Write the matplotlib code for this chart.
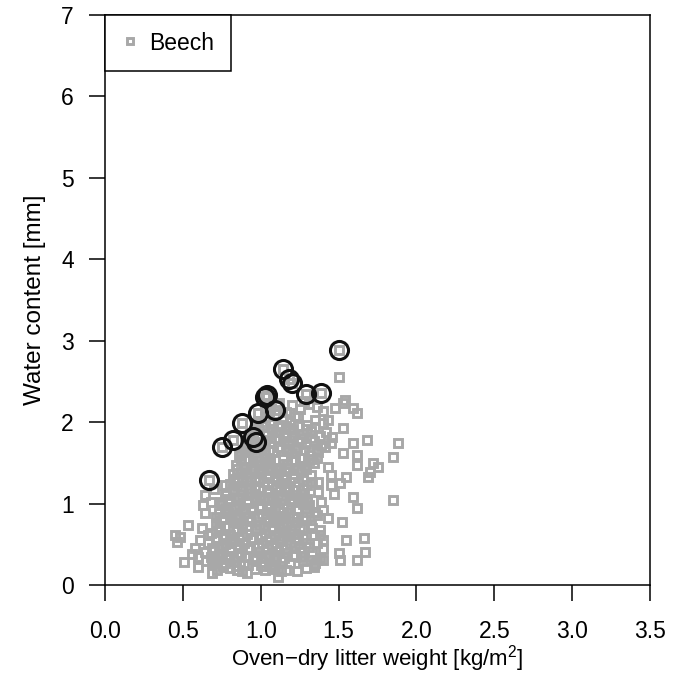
import matplotlib
matplotlib.use("Agg")
import matplotlib.pyplot as plt

plt.rcParams['font.family'] = ['Liberation Sans', 'DejaVu Sans']
plt.rcParams['mathtext.fontset'] = 'custom'
plt.rcParams['mathtext.rm'] = 'Liberation Sans'
plt.rcParams['mathtext.it'] = 'Liberation Sans:italic'

# gray squares: all beech samples
beech_x = [
    1.06, 1.12, 1.20, 1.25, 1.31, 1.36, 1.40, 1.16, 1.28, 1.09,
    0.98, 1.03, 1.08, 1.14, 1.19, 1.24, 1.30, 1.35, 1.40, 1.11,
    0.93, 0.99, 1.04, 1.10, 1.16, 1.21, 1.27, 1.32, 1.38, 1.42,
    0.90, 0.95, 1.01, 1.06, 1.12, 1.18, 1.23, 1.29, 1.34, 1.39,
    0.86, 0.92, 0.97, 1.03, 1.08, 1.14, 1.20, 1.25, 1.31, 1.37,
    0.84, 0.89, 0.95, 1.00, 1.06, 1.11, 1.17, 1.22, 1.28, 1.34,
    0.82, 0.87, 0.93, 0.98, 1.04, 1.09, 1.15, 1.21, 1.26, 1.32,
    0.80, 0.85, 0.91, 0.96, 1.02, 1.07, 1.13, 1.18, 1.24, 1.30,
    0.77, 0.83, 0.88, 0.94, 0.99, 1.05, 1.11, 1.16, 1.22, 1.28,
    0.75, 0.80, 0.86, 0.92, 0.97, 1.04, 1.09, 1.15, 1.21, 1.27,
    0.73, 0.79, 0.84, 0.90, 0.95, 1.01, 1.07, 1.12, 1.18, 1.24,
    0.71, 0.77, 0.82, 0.88, 0.94, 0.99, 1.05, 1.11, 1.17, 1.23,
    0.68, 0.74, 0.80, 0.85, 0.91, 0.97, 1.03, 1.09, 1.15, 1.21,
    0.66, 0.72, 0.77, 0.83, 0.89, 0.95, 1.01, 1.07, 1.13, 1.19,
    0.64, 0.70, 0.75, 0.81, 0.87, 0.93, 0.99, 1.05, 1.11, 1.17,
    0.65, 0.71, 0.77, 0.83, 0.89, 0.95, 1.01, 1.07, 1.13, 1.19,
    0.72, 0.80, 0.88, 0.96, 1.03, 1.09, 1.16, 1.23, 1.29, 1.34,
    1.33, 1.37, 1.30, 1.35, 1.29, 1.33, 1.27, 1.31, 1.28, 1.33,
    1.25, 1.38, 1.36, 1.40, 1.38, 1.26, 1.35, 1.24, 1.27, 1.23,
    0.98, 1.02, 1.06, 1.10, 1.14, 1.18, 1.00, 1.04, 1.08, 1.12,
    1.16, 1.12, 1.08, 1.04, 1.00, 0.96, 1.14, 1.10, 1.06, 1.02,
    0.90, 0.94, 0.88, 0.92, 0.86, 0.90, 0.84, 0.88, 0.82, 0.86,
    1.20, 1.24, 1.18, 1.22, 1.16, 1.20, 1.14, 1.18, 1.22, 1.26,
    0.96, 1.01, 1.07, 1.13, 1.18, 1.24, 1.29, 1.35, 1.05, 1.22,
    0.92, 0.98, 1.03, 1.09, 1.15, 1.20, 1.26, 1.32, 0.89, 1.36,
    0.94, 1.00, 1.05, 1.11, 1.17, 1.22, 1.28, 0.87, 0.92, 1.33,
    0.98, 1.03, 1.09, 1.14, 1.20, 1.25, 1.31, 0.85, 0.90, 0.96,
    1.01, 1.07, 1.12, 1.18, 1.24, 1.29, 0.83, 0.88, 0.94, 0.99,
    1.05, 1.10, 1.16, 1.21, 1.27, 0.82, 0.88, 0.93, 0.99, 1.04,
    1.10, 1.16, 1.21, 1.27, 0.79, 0.85, 0.91, 0.96, 1.02, 1.07,
    1.13, 1.19, 1.24, 1.30, 0.77, 0.83, 0.89, 0.94, 1.00, 1.06,
    1.12, 1.17, 1.23, 1.29, 0.75, 0.81, 0.86, 0.92, 0.98, 1.04,
    1.09, 1.15, 1.21, 1.27, 0.74, 0.79, 0.85, 0.91, 0.97, 1.02,
    1.08, 1.14, 1.19, 1.25, 0.71, 0.77, 0.83, 0.88, 0.94, 1.00,
    1.06, 1.12, 1.18, 1.24, 0.69, 0.75, 0.80, 0.86, 0.92, 0.98,
    1.04, 1.10, 1.16, 1.22, 0.68, 0.74, 0.79, 0.85, 0.91, 0.97,
    1.03, 1.09, 1.15, 1.21, 1.27, 0.76, 0.84, 0.92, 1.00, 1.06,
    0.70, 0.73, 0.78, 0.81, 0.76, 0.79, 0.74, 0.87, 1.26, 1.31,
    1.34, 1.29, 1.32, 1.36, 1.03, 1.11, 0.97, 1.19, 1.13, 1.07,
    1.50, 1.54, 1.53, 1.59, 1.62, 1.48, 1.43, 1.53, 1.46, 1.45,
    1.59, 1.68, 1.88, 1.85, 1.85, 1.62, 1.62, 1.72, 1.70, 1.69,
    1.55, 1.51, 1.59, 1.62, 1.52, 1.40, 1.55, 1.66, 1.67, 1.62,
    1.50, 1.51, 1.36, 1.43, 1.39, 1.34, 1.40, 1.34, 1.40, 1.38,
    1.43, 1.37, 1.45, 1.41, 1.36, 1.36, 1.53, 1.75, 1.45, 1.47,
    0.53, 0.45, 0.46, 0.48, 0.51, 0.61, 0.66, 0.60, 0.60, 0.69,
    0.69, 0.76, 0.85, 0.91, 1.11, 0.64, 0.63, 0.64, 0.71, 0.73,
    0.75, 0.78, 0.77, 0.87, 0.85, 0.58, 0.56, 0.62, 0.68, 0.70,
]
beech_y = [
    2.18, 2.24, 2.21, 2.16, 2.22, 2.19, 2.14, 2.12, 2.26, 2.10,
    2.02, 2.06, 1.98, 2.04, 2.00, 2.07, 1.97, 2.03, 1.99, 1.94,
    1.86, 1.90, 1.84, 1.88, 1.82, 1.91, 1.85, 1.89, 1.83, 1.88,
    1.74, 1.69, 1.72, 1.76, 1.70, 1.74, 1.68, 1.73, 1.77, 1.71,
    1.60, 1.63, 1.57, 1.61, 1.64, 1.58, 1.62, 1.56, 1.60, 1.63,
    1.48, 1.45, 1.51, 1.47, 1.50, 1.44, 1.49, 1.52, 1.46, 1.50,
    1.36, 1.39, 1.33, 1.37, 1.34, 1.38, 1.32, 1.36, 1.40, 1.35,
    1.24, 1.21, 1.26, 1.22, 1.27, 1.23, 1.25, 1.20, 1.26, 1.23,
    1.12, 1.15, 1.10, 1.13, 1.09, 1.14, 1.11, 1.15, 1.10, 1.13,
    1.00, 1.03, 0.98, 1.01, 1.04, 0.97, 1.02, 0.99, 1.03, 1.00,
    0.88, 0.91, 0.86, 0.89, 0.92, 0.87, 0.90, 0.85, 0.89, 0.92,
    0.76, 0.73, 0.78, 0.75, 0.79, 0.74, 0.77, 0.80, 0.75, 0.78,
    0.64, 0.67, 0.62, 0.66, 0.63, 0.68, 0.64, 0.61, 0.66, 0.63,
    0.52, 0.55, 0.50, 0.54, 0.51, 0.56, 0.52, 0.49, 0.54, 0.51,
    0.40, 0.43, 0.38, 0.42, 0.39, 0.44, 0.40, 0.37, 0.42, 0.39,
    0.29, 0.31, 0.27, 0.30, 0.26, 0.32, 0.28, 0.25, 0.30, 0.27,
    0.19, 0.21, 0.17, 0.20, 0.18, 0.22, 0.19, 0.17, 0.21, 0.24,
    1.26, 1.14, 1.02, 0.90, 0.80, 0.70, 0.58, 0.47, 0.36, 0.40,
    0.46, 0.62, 0.52, 0.44, 0.33, 0.40, 0.27, 0.58, 0.70, 0.84,
    1.80, 1.66, 1.54, 1.42, 1.30, 1.18, 1.06, 0.94, 0.82, 0.70,
    1.95, 1.78, 1.65, 1.52, 1.40, 1.28, 0.60, 0.47, 0.35, 0.23,
    1.55, 1.42, 1.30, 1.18, 1.06, 0.94, 0.82, 0.70, 0.58, 0.46,
    1.88, 1.76, 1.64, 1.52, 1.40, 1.06, 0.94, 0.82, 0.58, 0.34,
    1.93, 1.95, 1.92, 1.96, 1.93, 1.95, 1.91, 1.94, 2.12, 2.08,
    1.79, 1.81, 1.78, 1.80, 1.77, 1.82, 1.79, 1.80, 1.66, 1.67,
    1.67, 1.68, 1.66, 1.69, 1.67, 1.68, 1.66, 1.54, 1.55, 1.55,
    1.54, 1.56, 1.53, 1.55, 1.54, 1.56, 1.53, 1.42, 1.43, 1.41,
    1.42, 1.43, 1.41, 1.44, 1.42, 1.43, 1.30, 1.31, 1.29, 1.30,
    1.31, 1.29, 1.30, 1.31, 1.29, 1.18, 1.17, 1.19, 1.18, 1.17,
    1.18, 1.19, 1.17, 1.18, 1.06, 1.07, 1.05, 1.07, 1.06, 1.08,
    1.06, 1.05, 1.07, 1.06, 0.94, 0.95, 0.93, 0.95, 0.94, 0.96,
    0.94, 0.95, 0.93, 0.95, 0.82, 0.83, 0.81, 0.82, 0.84, 0.82,
    0.83, 0.82, 0.84, 0.83, 0.70, 0.71, 0.69, 0.72, 0.70, 0.71,
    0.70, 0.72, 0.69, 0.71, 0.58, 0.59, 0.57, 0.60, 0.58, 0.59,
    0.58, 0.57, 0.59, 0.58, 0.46, 0.47, 0.45, 0.48, 0.46, 0.47,
    0.46, 0.47, 0.45, 0.48, 0.34, 0.35, 0.33, 0.36, 0.34, 0.35,
    0.34, 0.35, 0.33, 0.36, 0.30, 0.24, 0.23, 0.25, 0.24, 0.23,
    0.33, 0.48, 0.36, 0.52, 0.62, 0.88, 1.02, 1.62, 1.12, 0.98,
    0.62, 0.52, 0.74, 0.86, 2.16, 2.20, 1.99, 2.11, 0.17, 0.20,
    2.55, 2.27, 2.23, 2.17, 2.11, 2.17, 2.03, 1.93, 1.82, 1.74,
    1.74, 1.78, 1.74, 1.57, 1.04, 1.60, 1.47, 1.50, 1.39, 1.33,
    1.33, 1.25, 1.08, 0.95, 0.77, 0.92, 0.55, 0.58, 0.41, 0.31,
    0.39, 0.31, 0.31, 0.82, 1.02, 0.90, 0.31, 0.22, 0.55, 0.68,
    1.45, 1.26, 1.23, 1.69, 1.66, 1.56, 1.62, 1.45, 1.35, 1.12,
    0.74, 0.61, 0.53, 0.59, 0.28, 0.55, 0.61, 0.34, 0.22, 0.15,
    0.27, 0.22, 0.18, 0.15, 0.10, 1.11, 0.98, 0.88, 0.84, 0.71,
    0.98, 1.11, 1.23, 1.38, 1.29, 0.45, 0.38, 0.70, 1.02, 1.18,
]

# highlighted samples (black circles)
circ_x = [0.67, 0.75, 0.82, 0.88, 0.95, 0.97, 0.98, 1.03, 1.04, 1.09,
          1.14, 1.18, 1.20, 1.29, 1.39, 1.50]
circ_y = [1.29, 1.70, 1.78, 1.99, 1.82, 1.76, 2.11, 2.31, 2.33, 2.15,
          2.65, 2.53, 2.48, 2.35, 2.36, 2.89]

x_ticks = [0.0, 0.5, 1.0, 1.5, 2.0, 2.5, 3.0, 3.5]
y_ticks = [0, 1, 2, 3, 4, 5, 6, 7]

gray = '#a8a8a8'

fig = plt.figure(figsize=(6.75, 6.79), dpi=100)
ax = fig.add_axes([0.1556, 0.1384, 0.8074, 0.8395])

ax.plot(beech_x, beech_y, 's', ms=5.6, mfc='none', mec=gray, mew=2.1,
        label='Beech', zorder=2)
ax.plot(circ_x, circ_y, 's', ms=5.6, mfc='none', mec=gray, mew=2.1, zorder=2)
ax.plot(circ_x, circ_y, 'o', ms=13.0, mfc='none', mec='#111111', mew=2.2,
        zorder=3)

ax.set_xlim(0, 3.5)
ax.set_ylim(0, 7)
ax.set_xticks(x_ticks)
ax.set_xticklabels(['%.1f' % v for v in x_ticks])
ax.set_yticks(y_ticks)
ax.set_yticklabels([str(v) for v in y_ticks])
ax.tick_params(direction='out', length=11.5, width=1.1, labelsize=16.5)
ax.tick_params(axis='x', pad=14)
ax.tick_params(axis='y', pad=11)
for s in ax.spines.values():
    s.set_linewidth(1.1)

ax.set_xlabel('Oven\u2212dry litter weight [kg/m$^2$]', fontsize=16, labelpad=0)
ax.set_ylabel('Water content [mm]', fontsize=17.5, labelpad=11)

leg = ax.legend(loc='upper left', borderaxespad=0, fancybox=False,
                framealpha=1, edgecolor='black', fontsize=16.5,
                handletextpad=0.45, borderpad=0.72, handlelength=0.75,
                markerscale=0.75)
leg.get_frame().set_linewidth(1.1)

fig.savefig('out.png', dpi=100)
